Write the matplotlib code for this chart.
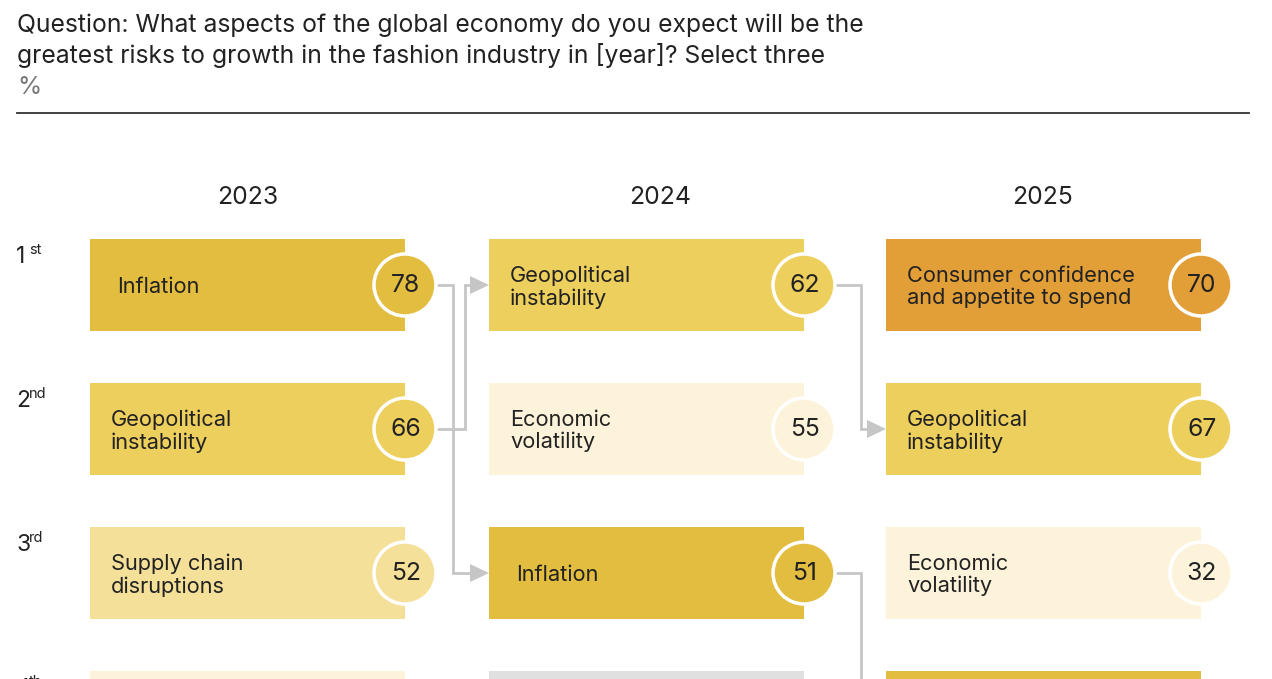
import matplotlib.pyplot as plt
from matplotlib.patches import Rectangle, Circle, Polygon

plt.rcParams['font.family'] = ['Inter', 'DejaVu Sans']

# data
years = ["2023", "2024", "2025"]
ranks = ["1", "2", "3", "4"]
rank_sup = ["st", "nd", "rd", "th"]

labels_2023 = ["Inflation", "Geopolitical\ninstability", "Supply chain\ndisruptions", ""]
values_2023 = [78, 66, 52, None]
labels_2024 = ["Geopolitical\ninstability", "Economic\nvolatility", "Inflation", ""]
values_2024 = [62, 55, 51, None]
labels_2025 = ["Consumer confidence\nand appetite to spend", "Geopolitical\ninstability",
               "Economic\nvolatility", ""]
values_2025 = [70, 67, 32, None]

# category of each cell (sets colour)
cats_2023 = ["inflation", "geo", "supply", "econ"]
cats_2024 = ["geo", "econ", "inflation", "other"]
cats_2025 = ["consumer", "geo", "econ", "inflation"]

# movements: (from column, from rank, to rank) - zero based
moves = [(0, 0, 2), (0, 1, 0), (1, 0, 1), (1, 2, 3)]

colors = {"inflation": "#e3bd3f", "geo": "#edcf5d", "supply": "#f4e099",
          "econ": "#fcf3da", "consumer": "#e29f38", "other": "#e0e0e0"}

labels = [labels_2023, labels_2024, labels_2025]
values = [values_2023, values_2024, values_2025]
cats = [cats_2023, cats_2024, cats_2025]

# layout (pixels)
col_x0 = [90, 489, 886]
box_w = 315
box_h = 92
row_y0 = 239
row_pitch = 144
year_x = [248, 660, 1043]
r_circ = 31
line_col = "#c6c6c6"
txt_col = "#222222"

fig = plt.figure(figsize=(12.72, 6.79), dpi=100)
ax = fig.add_axes([0, 0, 1, 1])
ax.set_xlim(0, 1272)
ax.set_ylim(679, 0)
ax.axis('off')

# header
ax.text(17, 25, "Question: What aspects of the global economy do you expect will be the",
        fontsize=17.8, color=txt_col, va='center', ha='left')
ax.text(17, 56, "greatest risks to growth in the fashion industry in [year]? Select three",
        fontsize=17.8, color=txt_col, va='center', ha='left')
ax.text(17, 88, "%", fontsize=17.8, color="#777777", va='center', ha='left')
ax.plot([17, 1249], [113, 113], color="#333333", lw=1.3)

for c, yr in enumerate(years):
    ax.text(year_x[c], 198, yr, fontsize=17.8, color=txt_col, ha='center', va='center')

for r in range(len(ranks)):
    yt = row_y0 + r * row_pitch + 18
    ax.text(16, yt, ranks[r], fontsize=16.5, color=txt_col, ha='left', va='center')
    ax.text(29, yt - 7, rank_sup[r], fontsize=10.5, color=txt_col, ha='left', va='center')

# connectors
for c, r0, r1 in moves:
    x_start = col_x0[c] + box_w + r_circ
    y_start = row_y0 + r0 * row_pitch + box_h / 2
    y_end = row_y0 + r1 * row_pitch + box_h / 2
    x_end = col_x0[c + 1]
    x_mid = x_start + (17 if r1 > r0 else 29)
    if c == 1:
        x_mid = x_start + 26
    ax.plot([x_start, x_mid, x_mid, x_end - 18], [y_start, y_start, y_end, y_end],
            color=line_col, lw=2, solid_joinstyle='miter', zorder=1)
    ax.add_patch(Polygon([[x_end - 19, y_end - 9], [x_end, y_end], [x_end - 19, y_end + 9]],
                         closed=True, color=line_col, lw=0, zorder=1))

# boxes
for c in range(len(years)):
    for r in range(len(ranks)):
        x0 = col_x0[c]
        y0 = row_y0 + r * row_pitch
        col = colors[cats[c][r]]
        ax.add_patch(Rectangle((x0, y0), box_w, box_h, facecolor=col, edgecolor='none', zorder=2))
        ax.text(x0 + (27 if labels[c][r] == "Inflation" else 21), y0 + box_h / 2 + 2, labels[c][r],
                fontsize=15.7, color=txt_col, ha='left', va='center', linespacing=1.15, zorder=4)
        if values[c][r] is not None:
            cx = x0 + box_w
            cy = y0 + box_h / 2
            ax.add_patch(Circle((cx, cy), r_circ, facecolor=col, edgecolor='white', lw=2.5, zorder=3))
            ax.text(cx + 1, cy + 1, str(values[c][r]), fontsize=17.8, color=txt_col,
                    ha='center', va='center', zorder=4)

fig.savefig("out.png", dpi=100)
